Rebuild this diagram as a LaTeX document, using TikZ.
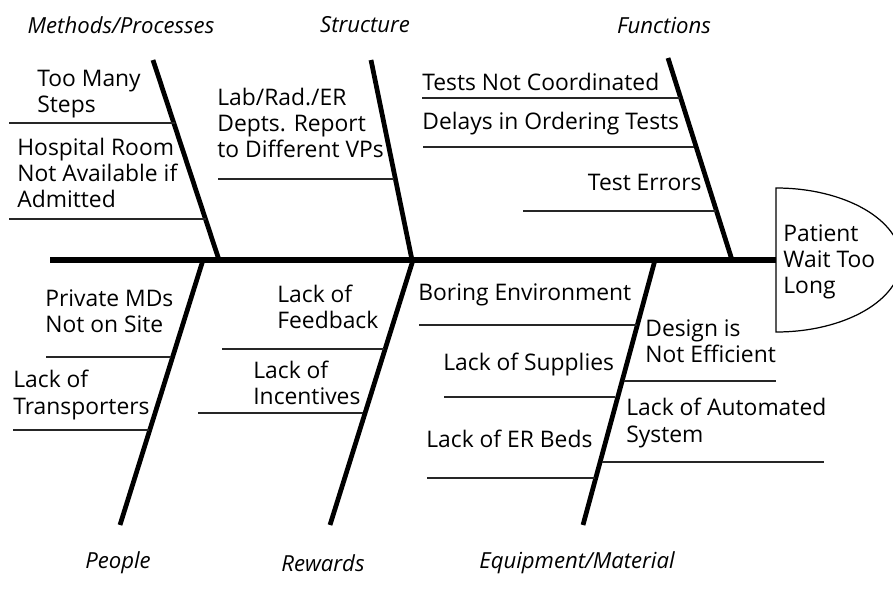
\documentclass[tikz,border=0pt]{standalone}
\usepackage{fontspec}
\setmainfont{Open Sans}
\usetikzlibrary{positioning}

\begin{document}
\begin{tikzpicture}[x=0.02cm,y=-0.02cm,
  spine/.style={line width=2.9pt},
  bone/.style={line width=2.7pt},
  rib/.style={line width=0.75pt,draw=black!85},
  cause/.style={inner sep=0pt,align=left,font=\fontsize{13}{15}\selectfont},
  cat/.style={inner sep=0pt,font=\fontsize{12.6}{15}\selectfont\itshape},
  head/.style={draw,line width=0.7pt,fill=white}]
  \useasboundingbox (0,0) rectangle (893,599);
  \clip (0,0) rectangle (893,599);

  % spine and effect box
  \coordinate (tail) at (50,260);
  \coordinate (neck) at (776,260);
  \draw[spine] (tail) -- (neck);
  \draw[head] (776,188) arc[start angle=-90,end angle=90,x radius=125,y radius=72] -- cycle;
  \node[cause,anchor=west] (effect) at (783,262) {Patient\\Wait Too\\Long};

  % main bones
  \coordinate (mt) at (153,60);  \coordinate (mb) at (219,260);
  \coordinate (st) at (371,60);  \coordinate (sb) at (412,260);
  \coordinate (ft) at (668,58);  \coordinate (fb) at (732,260);
  \coordinate (pt) at (203,260); \coordinate (pb) at (120,525);
  \coordinate (rt) at (413,260); \coordinate (rb) at (330,525);
  \coordinate (et) at (655,260); \coordinate (eb) at (583,525);
  \foreach \a/\b in {mt/mb,st/sb,ft/fb,pt/pb,rt/rb,et/eb}
    \draw[bone] (\a) -- (\b);

  % ribs
  \foreach \xa/\xb/\yy in {9/175/123, 9/206/219, 218/394/179,
      422/680/98, 423/694/147, 523/716/211,
      46/171/357, 13/149/430, 222/384/349, 198/363/413,
      419/637/325, 444/615/397, 427/595/478,
      624/776/381, 602/824/462}
    \draw[rib] (\xa,\yy) -- (\xb,\yy);

  % category names
  \node[cat] (methods)   at (121,25)  {Methods/Processes};
  \node[cat] (structure) at (365,25)  {Structure};
  \node[cat] (functions) at (664,25)  {Functions};
  \node[cat] (people)    at (118,563) {People};
  \node[cat] (rewards)   at (323,563) {Rewards};
  \node[cat] (equipment) at (577,563) {Equipment/Material};

  % causes
  \node[cause,anchor=west] (steps)    at (37,94)   {Too Many\\Steps};
  \node[cause,anchor=west] (room)     at (17,173)  {Hospital Room\\Not Available if\\Admitted};
  \node[cause,anchor=west] (depts)    at (217,123) {Lab/Rad./ER\\Depts. Report\\to Different VPs};
  \node[cause,anchor=west] (coord)    at (422,82)  {Tests Not Coordinated};
  \node[cause,anchor=west] (delays)   at (422,124) {Delays in Ordering Tests};
  \node[cause,anchor=east] (errors)   at (702,182) {Test Errors};
  \node[cause,anchor=west] (mds)      at (45,311)  {Private MDs\\Not on Site};
  \node[cause,anchor=west] (transp)   at (13,395)  {Lack of\\Transporters};
  \node[cause,anchor=west] (feedback) at (277,307) {Lack of\\Feedback};
  \node[cause,anchor=west] (incent)   at (253,383) {Lack of\\Incentives};
  \node[cause,anchor=west] (boring)   at (418,295) {Boring Environment};
  \node[cause,anchor=west] (supplies) at (443,364) {Lack of Supplies};
  \node[cause,anchor=west] (beds)     at (426,439) {Lack of ER Beds};
  \node[cause,anchor=west] (design)   at (645,341) {Design is\\Not Efficient};
  \node[cause,anchor=west] (auto)     at (626,423) {Lack of Automated\\System};
\end{tikzpicture}
\end{document}
